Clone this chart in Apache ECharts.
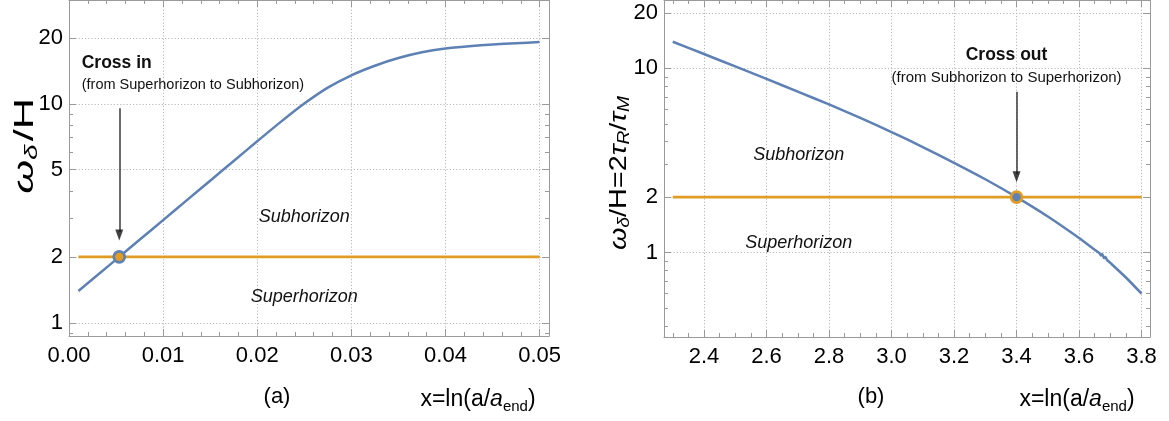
<!DOCTYPE html>
<html><head><meta charset="utf-8">
<script src="https://cdn.jsdelivr.net/npm/echarts@6/dist/echarts.min.js"></script>
<style>html,body{margin:0;padding:0;background:#fff}#c{width:1169px;height:421px}</style>
</head><body><div id="c"></div>
<script>
const FONT = "'Liberation Sans', Arial, Helvetica, sans-serif";
const BLUE = '#5e81b5', ORANGE = '#e19c24', FRAME = '#9a9a9a', GRIDC = '#b8b8b8';

// ---- Panel (a) ----
const aX = [0.001, 0.003, 0.00534, 0.0075, 0.01, 0.0125, 0.015, 0.0175, 0.02, 0.0225, 0.025, 0.0275, 0.03, 0.0325, 0.035, 0.0375, 0.04, 0.0425, 0.045, 0.0475, 0.05];
const aY = [1.396, 1.647, 2.00, 2.393, 2.943, 3.622, 4.456, 5.482, 6.744, 8.27, 10.03, 11.86, 13.50, 14.93, 16.18, 17.19, 17.89, 18.33, 18.67, 18.93, 19.14];
const aRefX = [0.001, 0.05];
const aRefY = [2, 2];
const aCross = [0.00534, 2];
const aXTicks = [0, 0.01, 0.02, 0.03, 0.04, 0.05];
const aXMinor = [0.002, 0.004, 0.006, 0.008, 0.012, 0.014, 0.016, 0.018, 0.022, 0.024, 0.026, 0.028, 0.032, 0.034, 0.036, 0.038, 0.042, 0.044, 0.046, 0.048];
const aYTicks = [1, 2, 5, 10, 20];
const aYMinor = [0.9, 3, 4, 6, 7, 8, 9];

// ---- Panel (b) ----
const bX = [2.3, 2.4, 2.5, 2.6, 2.7, 2.8, 2.9, 3.0, 3.1, 3.2, 3.3, 3.4, 3.5, 3.6, 3.65, 3.665, 3.67, 3.674, 3.68, 3.684, 3.69, 3.7, 3.75, 3.8];
const bY = [13.95, 11.96, 10.24, 8.76, 7.48, 6.37, 5.38, 4.51, 3.74, 3.07, 2.50, 2.00, 1.57, 1.20, 1.036, 0.993, 0.964, 0.982, 0.933, 0.946, 0.910, 0.879, 0.732, 0.598];
const bRefX = [2.3, 3.8];
const bRefY = [2, 2];
const bCross = [3.4, 2];
const bXTicks = [2.4, 2.6, 2.8, 3.0, 3.2, 3.4, 3.6, 3.8];
const bXMinor = [2.3, 2.35, 2.45, 2.5, 2.55, 2.65, 2.7, 2.75, 2.85, 2.9, 2.95, 3.05, 3.1, 3.15, 3.25, 3.3, 3.35, 3.45, 3.5, 3.55, 3.65, 3.7, 3.75];
const bYTicks = [1, 2, 10, 20];
const bYMinor = [0.4, 0.5, 0.6, 0.7, 0.8, 0.9, 3, 4, 5, 6, 7, 8, 9];

// annotations (data coordinates)
const aNotes = {
  title: {text: 'Cross in', at: [0.00135, 15.3]},
  sub: {text: '(from Superhorizon to Subhorizon)', at: [0.00135, 12.2]},
  arrow: [[0.00534, 9.55], [0.00534, 2.6]],
  head: [0.00534, 2.515],
  upper: {text: 'Subhorizon', at: [0.025, 3.04]},
  lower: {text: 'Superhorizon', at: [0.025, 1.31]}
};
const bNotes = {
  title: {text: 'Cross out', at: [3.368, 11.8]},
  sub: {text: '(from Subhorizon to Superhorizon)', at: [3.368, 8.86]},
  arrow: [[3.4, 7.46], [3.4, 2.66]],
  head: [3.4, 2.58],
  upper: {text: 'Subhorizon', at: [2.703, 3.38]},
  lower: {text: 'Superhorizon', at: [2.703, 1.12]}
};

const tickMajor = {show: true, inside: true, length: 7, lineStyle: {color: FRAME, width: 1}};
const tickMinor = {show: true, inside: true, length: 4, lineStyle: {color: FRAME, width: 1}};
const frameLine = {show: true, onZero: false, lineStyle: {color: FRAME, width: 1}};
const noLine = {show: false, onZero: false};
const labelBase = {show: true, color: '#000', fontFamily: FONT, fontSize: 22};
const gridLine = {show: true, lineStyle: {color: GRIDC, width: 1, type: [1.2, 2]}};

function buildPanel(gi, o) {
  const xBase = {gridIndex: gi, type: 'value', min: o.xMin, max: o.xMax, splitLine: {show: false}, axisLabel: {show: false}};
  const yBase = {gridIndex: gi, type: 'log', logBase: 10, min: o.yMin, max: o.yMax, splitLine: {show: false}, axisLabel: {show: false}};
  const xAxes = [
    Object.assign({}, xBase, {position: 'bottom', axisLine: frameLine, axisTick: Object.assign({}, tickMajor, {customValues: o.xTicks}),
      axisLabel: Object.assign({}, labelBase, {margin: 9, customValues: o.xTicks, formatter: v => Number(v).toFixed(o.xDec)}), splitLine: gridLine}),
    Object.assign({}, xBase, {position: 'bottom', axisLine: noLine, axisTick: Object.assign({}, tickMinor, {customValues: o.xMinor})}),
    Object.assign({}, xBase, {position: 'top', axisLine: frameLine, axisTick: Object.assign({}, tickMajor, {customValues: o.xTicks})}),
    Object.assign({}, xBase, {position: 'top', axisLine: noLine, axisTick: Object.assign({}, tickMinor, {customValues: o.xMinor})})
  ];
  const yAxes = [
    Object.assign({}, yBase, {position: 'left', axisLine: frameLine, axisTick: Object.assign({}, tickMajor, {customValues: o.yTicks}),
      axisLabel: Object.assign({}, labelBase, {margin: 6, customValues: o.yTicks, formatter: v => String(Math.round(v))}), splitLine: gridLine}),
    Object.assign({}, yBase, {position: 'left', axisLine: noLine, axisTick: Object.assign({}, tickMinor, {customValues: o.yMinor})}),
    Object.assign({}, yBase, {position: 'right', axisLine: frameLine, axisTick: Object.assign({}, tickMajor, {customValues: o.yTicks})}),
    Object.assign({}, yBase, {position: 'right', axisLine: noLine, axisTick: Object.assign({}, tickMinor, {customValues: o.yMinor})})
  ];
  const xi = gi * 4, yi = gi * 4;
  const n = o.notes;
  const noteItem = (t, pos, style) => ({
    coord: t.at, symbol: 'circle', symbolSize: 0,
    label: Object.assign({show: true, position: pos, distance: 0, formatter: t.text, color: '#111', fontFamily: FONT}, style)
  });
  const series = [
    {
      type: 'line', xAxisIndex: xi, yAxisIndex: yi, data: o.x.map((x, i) => [x, o.y[i]]),
      smooth: 0.2, showSymbol: false, lineStyle: {color: BLUE, width: 2.5}, itemStyle: {color: BLUE}, z: 3, silent: true,
      markLine: {
        silent: true, symbol: ['none', 'none'],
        lineStyle: {color: '#3a3a3a', width: 1.5, type: 'solid'}, label: {show: false},
        data: [[{coord: n.arrow[0]}, {coord: n.arrow[1]}]]
      },
      markPoint: {
        silent: true,
        data: [
          noteItem(n.title, o.titlePos, {fontSize: 17.5, fontWeight: 'bold', align: o.titleAlign}),
          noteItem(n.sub, o.titlePos, {fontSize: o.subSize, align: o.titleAlign}),
          noteItem(n.upper, 'inside', {fontSize: 18, fontStyle: 'italic'}),
          noteItem(n.lower, 'inside', {fontSize: 18, fontStyle: 'italic'})
        ]
      }
    },
    {
      type: 'scatter', xAxisIndex: xi, yAxisIndex: yi, data: [n.head], symbol: 'triangle', symbolRotate: 180,
      symbolSize: [8, 11], itemStyle: {color: '#111'}, z: 5, silent: true
    },
    {
      type: 'line', xAxisIndex: xi, yAxisIndex: yi, data: o.refX.map((x, i) => [x, o.refY[i]]),
      showSymbol: false, lineStyle: {color: ORANGE, width: 2.6}, itemStyle: {color: ORANGE}, z: 4, silent: true
    },
    {
      type: 'scatter', xAxisIndex: xi, yAxisIndex: yi, data: [o.cross], symbolSize: 11,
      itemStyle: {color: o.dotFill, borderColor: o.dotBorder, borderWidth: 2.6, opacity: 1}, z: 6, silent: true
    }
  ];
  return {xAxes, yAxes, series};
}

const pa = buildPanel(0, {
  xMin: 0, xMax: 0.051, yMin: 0.870, yMax: 29.8, xDec: 2,
  x: aX, y: aY, refX: aRefX, refY: aRefY, cross: aCross,
  xTicks: aXTicks, xMinor: aXMinor, yTicks: aYTicks, yMinor: aYMinor,
  notes: aNotes, titlePos: 'right', titleAlign: 'left', subSize: 14.5,
  dotFill: ORANGE, dotBorder: BLUE
});
const pb = buildPanel(1, {
  xMin: 2.272, xMax: 3.827, yMin: 0.348, yMax: 23.5, xDec: 1,
  x: bX, y: bY, refX: bRefX, refY: bRefY, cross: bCross,
  xTicks: bXTicks, xMinor: bXMinor, yTicks: bYTicks, yMinor: bYMinor,
  notes: bNotes, titlePos: 'inside', titleAlign: 'center', subSize: 15,
  dotFill: BLUE, dotBorder: ORANGE
});

const chart = echarts.init(document.getElementById('c'), null, {renderer: 'canvas'});
const subRich = {
  n: {fontFamily: FONT, fontSize: 23, color: '#000', lineHeight: 28},
  i: {fontFamily: FONT, fontSize: 23, fontStyle: 'italic', color: '#000', lineHeight: 28},
  s: {fontFamily: FONT, fontSize: 15, color: '#000', lineHeight: 15, verticalAlign: 'bottom'}
};
const yRichA = {
  w: {fontFamily: FONT, fontSize: 28, fontStyle: 'italic', color: '#000', lineHeight: 32},
  n: {fontFamily: FONT, fontSize: 28, color: '#000', lineHeight: 32, padding: [0, 1, 0, 2]},
  s: {fontFamily: FONT, fontSize: 18, fontStyle: 'italic', color: '#000', lineHeight: 18, verticalAlign: 'bottom'}
};
const yRichB = {
  w: {fontFamily: FONT, fontSize: 24, fontStyle: 'italic', color: '#000', lineHeight: 28},
  n: {fontFamily: FONT, fontSize: 24, color: '#000', lineHeight: 28},
  s: {fontFamily: FONT, fontSize: 16, fontStyle: 'italic', color: '#000', lineHeight: 16, verticalAlign: 'bottom'}
};

chart.setOption({
  animation: false,
  backgroundColor: '#fff',
  grid: [
    {left: 69, top: 0, width: 480, height: 336, containLabel: false, outerBoundsMode: 'none'},
    {left: 664, top: 0, width: 486, height: 337, containLabel: false, outerBoundsMode: 'none'}
  ],
  xAxis: pa.xAxes.concat(pb.xAxes),
  yAxis: pa.yAxes.concat(pb.yAxes),
  series: pa.series.concat(pb.series),
  graphic: [
    {type: 'text', x: 25, y: 145, rotation: Math.PI / 2, scaleX: 1.55, style: {text: '{w|ω}{s|δ}{n|/H}', rich: yRichA, align: 'center', verticalAlign: 'middle'}},
    {type: 'text', x: 619, y: 173, rotation: Math.PI / 2, scaleX: 1.2, style: {text: '{w|ω}{s|δ}{n|/H=2}{w|τ}{s|R}{n|/}{w|τ}{s|M}', rich: yRichB, align: 'center', verticalAlign: 'middle'}},
    {type: 'text', x: 277, y: 397, style: {text: '(a)', font: "22px " + FONT, fill: '#000', align: 'center', verticalAlign: 'middle'}},
    {type: 'text', x: 871, y: 397, style: {text: '(b)', font: "22px " + FONT, fill: '#000', align: 'center', verticalAlign: 'middle'}},
    {type: 'text', x: 478, y: 400, style: {text: '{n|x=ln(a/}{i|a}{s|end}{n|)}', rich: subRich, align: 'center', verticalAlign: 'middle'}},
    {type: 'text', x: 1077, y: 400, style: {text: '{n|x=ln(a/}{i|a}{s|end}{n|)}', rich: subRich, align: 'center', verticalAlign: 'middle'}}
  ]
});
</script></body></html>
